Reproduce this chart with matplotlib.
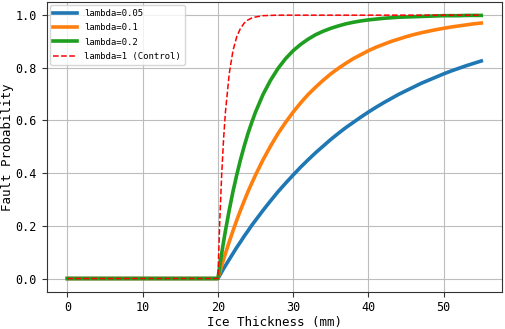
import matplotlib
matplotlib.use("Agg")
import matplotlib.pyplot as plt

plt.rcParams['font.family'] = ['DejaVu Sans Mono']

ice_thickness = [0, 10, 20, 20.25, 20.5, 20.75, 21, 21.5, 22, 22.5, 23, 23.5, 24, 24.5,
                 25, 26, 27, 28, 29, 30, 31, 32, 33, 34, 35, 36, 37, 38, 39, 40,
                 41, 42, 43, 44, 45, 46, 47, 48, 49, 50, 51, 52, 53, 54, 55]
p_005 = [0, 0, 0, 0.012, 0.025, 0.037, 0.049, 0.072, 0.095, 0.118, 0.139, 0.161, 0.181, 0.202,
         0.221, 0.259, 0.295, 0.330, 0.362, 0.393, 0.423, 0.451, 0.478, 0.503, 0.528, 0.551,
         0.573, 0.593, 0.613, 0.632, 0.650, 0.667, 0.683, 0.699, 0.713, 0.727, 0.741, 0.753,
         0.765, 0.777, 0.788, 0.798, 0.808, 0.817, 0.826]
p_01 = [0, 0, 0, 0.025, 0.049, 0.072, 0.095, 0.139, 0.181, 0.221, 0.259, 0.295, 0.330, 0.362,
        0.393, 0.451, 0.503, 0.551, 0.593, 0.632, 0.667, 0.699, 0.727, 0.753, 0.777, 0.798,
        0.817, 0.835, 0.850, 0.865, 0.878, 0.889, 0.900, 0.909, 0.918, 0.926, 0.933, 0.939,
        0.945, 0.950, 0.955, 0.959, 0.963, 0.967, 0.970]
p_02 = [0, 0, 0, 0.049, 0.095, 0.139, 0.181, 0.259, 0.330, 0.393, 0.451, 0.503, 0.551, 0.593,
        0.632, 0.699, 0.753, 0.798, 0.835, 0.865, 0.889, 0.909, 0.926, 0.939, 0.950, 0.959,
        0.967, 0.973, 0.978, 0.982, 0.985, 0.988, 0.990, 0.992, 0.993, 0.994, 0.995, 0.996,
        0.997, 0.998, 0.998, 0.998, 0.999, 0.999, 0.999]
p_1 = [0, 0, 0, 0.221, 0.393, 0.528, 0.632, 0.777, 0.865, 0.918, 0.950, 0.970, 0.982, 0.989,
       0.993, 0.998, 0.999, 1.0, 1.0, 1.0, 1.0, 1.0, 1.0, 1.0, 1.0, 1.0, 1.0, 1.0, 1.0, 1.0,
       1.0, 1.0, 1.0, 1.0, 1.0, 1.0, 1.0, 1.0, 1.0, 1.0, 1.0, 1.0, 1.0, 1.0, 1.0]
labels = ['lambda=0.05', 'lambda=0.1', 'lambda=0.2', 'lambda=1 (Control)']

fig = plt.figure(figsize=(5.05, 3.29), dpi=100)
ax = fig.add_axes([0.0925, 0.1134, 0.9015, 0.8806])

ax.plot(ice_thickness, p_005, color='#1f77b4', lw=2.6, label=labels[0])
ax.plot(ice_thickness, p_01, color='#ff7f0e', lw=2.6, label=labels[1])
ax.plot(ice_thickness, p_02, color='#1f9f1f', lw=2.6, label=labels[2])
ax.plot(ice_thickness, p_1, color='red', lw=1.1, ls='--', label=labels[3])

ax.set_xticks([0, 10, 20, 30, 40, 50])
ax.set_yticks([0.0, 0.2, 0.4, 0.6, 0.8, 1.0])
ax.tick_params(labelsize=8.5, length=3.5, color='#333333')
for s in ax.spines.values():
    s.set_color('#333333')
ax.grid(True, color='#bdbdbd', lw=0.8)
ax.set_xlabel('Ice Thickness (mm)', fontsize=9, va='center')
ax.set_ylabel('Fault Probability', fontsize=9, va='center')
ax.xaxis.set_label_coords(0.5, -0.105)
ax.yaxis.set_label_coords(-0.087, 0.5)
ax.legend(loc='upper left', fontsize=6.5, handlelength=2.6, labelspacing=0.6,
          borderaxespad=0.35)

fig.savefig('out.png', dpi=100)
